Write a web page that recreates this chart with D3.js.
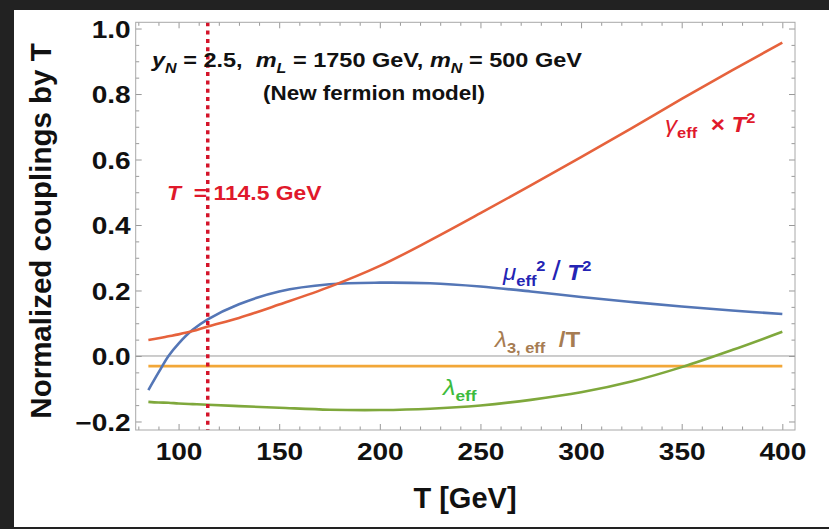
<!DOCTYPE html>
<html>
<head>
<meta charset="utf-8">
<script src="https://cdn.jsdelivr.net/npm/d3@7"></script>
<style>
  html, body { margin:0; padding:0; background:#222; }
  svg { display:block; }
  text { font-family: "Liberation Sans", Arial, sans-serif; }
</style>
</head>
<body>
<div class="chart"></div>
<script>
// temperatures (GeV) shared by all curves
var temps = [85, 90, 95, 100, 107, 114.5, 130, 150, 175, 200, 225, 250, 275, 300, 325, 350, 375, 400];
// gamma_eff x T^2
var gammaVals = [0.049, 0.054, 0.060, 0.066, 0.076, 0.090, 0.116, 0.157, 0.211, 0.275, 0.353, 0.436, 0.521, 0.607, 0.695, 0.785, 0.872, 0.957];
// mu_eff^2 / T^2
var muVals = [-0.104, -0.051, 0.000, 0.038, 0.080, 0.112, 0.158, 0.197, 0.219, 0.224, 0.222, 0.212, 0.197, 0.180, 0.165, 0.151, 0.139, 0.128];
// lambda_3,eff / T
var lam3Vals = [-0.031, -0.031, -0.031, -0.031, -0.031, -0.031, -0.031, -0.031, -0.031, -0.031, -0.031, -0.031, -0.031, -0.031, -0.031, -0.031, -0.031, -0.031];
// lambda_eff
var lamVals = [-0.140, -0.142, -0.143, -0.145, -0.147, -0.149, -0.153, -0.158, -0.164, -0.165, -0.161, -0.151, -0.134, -0.111, -0.078, -0.034, 0.018, 0.074];

var tCrit = 114.5;
var xMajor = [100, 150, 200, 250, 300, 350, 400];
var yMajor = [-0.2, 0, 0.2, 0.4, 0.6, 0.8, 1.0];

var W = 829, H = 529;
var svg = d3.select(".chart").append("svg")
  .attr("width", W)
  .attr("height", H);

// white picture area
svg.append("rect")
  .attr("x", 14).attr("y", 10)
  .attr("width", W-14).attr("height", 517)
  .attr("fill", "#fff");

var pLeft = 135.7, pRight = 795, pTop = 22.3, pBottom = 430;

var x = d3.scaleLinear().domain([78.7, 406.3]).range([pLeft, pRight]);
var y = d3.scaleLinear().domain([-0.226, 1.019]).range([pBottom, pTop]);

var xMinor = d3.range(80, 401, 10).filter(function(v){ return v % 50 != 0; });
var yMinor = d3.range(-0.2, 1.001, 0.05).filter(function(v){ return Math.abs(Math.round(v*5) - v*5) > 0.01; });

// zero line
svg.append("line")
  .attr("x1", pLeft).attr("x2", pRight)
  .attr("y1", y(0)).attr("y2", y(0))
  .attr("stroke", "#9a9a9a").attr("stroke-width", 1);

// curves
var line = d3.line()
  .x(function(d){ return x(d[0]); })
  .y(function(d){ return y(d[1]); })
  .curve(d3.curveCatmullRom.alpha(0.5));

var series = [
  {vals: lam3Vals, color: "#f2a738"},
  {vals: lamVals, color: "#7fa83c"},
  {vals: muVals, color: "#5476b6"},
  {vals: gammaVals, color: "#e6623c"}
];

series.forEach(function(s){
  svg.append("path")
    .attr("d", line(d3.zip(temps, s.vals)))
    .attr("fill", "none")
    .attr("stroke", s.color)
    .attr("stroke-width", 2.6);
});

// critical temperature marker
svg.append("line")
  .attr("x1", x(tCrit)).attr("x2", x(tCrit))
  .attr("y1", pTop).attr("y2", pBottom)
  .attr("stroke", "#d4142a")
  .attr("stroke-width", 3.5)
  .attr("stroke-dasharray", "4,4.3");

// frame + ticks
function styleAxis(g){
  g.select(".domain").remove();
  g.selectAll("line").attr("stroke", "#999");
}

svg.append("g").attr("transform", "translate(0," + pBottom + ")")
  .call(d3.axisBottom(x).tickValues(xMajor).tickSize(-6).tickPadding(8))
  .call(styleAxis)
  .call(function(g){
    g.selectAll("text")
      .attr("font-size", "24px").attr("font-weight", "bold").attr("fill", "#111")
      .attr("font-family", "Liberation Sans, Arial, sans-serif")
      .attr("transform", "scale(1.17,1)")
      .attr("x", 0).attr("y", 13).attr("dy", "0.71em");
  });
svg.append("g").attr("transform", "translate(0," + pBottom + ")")
  .call(d3.axisBottom(x).tickValues(xMinor).tickSize(-3.5).tickFormat(""))
  .call(styleAxis);
svg.append("g").attr("transform", "translate(0," + pTop + ")")
  .call(d3.axisTop(x).tickValues(xMajor).tickSize(-6).tickFormat(""))
  .call(styleAxis);
svg.append("g").attr("transform", "translate(0," + pTop + ")")
  .call(d3.axisTop(x).tickValues(xMinor).tickSize(-3.5).tickFormat(""))
  .call(styleAxis);

svg.append("g").attr("transform", "translate(" + pLeft + ",0)")
  .call(d3.axisLeft(y).tickValues(yMajor).tickSize(-6).tickFormat(d3.format(".1f")))
  .call(styleAxis)
  .call(function(g){
    g.selectAll("text")
      .attr("font-size", "24px").attr("font-weight", "bold").attr("fill", "#111")
      .attr("font-family", "Liberation Sans, Arial, sans-serif")
      .attr("transform", "scale(1.17,1)")
      .attr("x", -4.3).attr("dy", "0.36em");
  });
svg.append("g").attr("transform", "translate(" + pLeft + ",0)")
  .call(d3.axisLeft(y).tickValues(yMinor).tickSize(-3.5).tickFormat(""))
  .call(styleAxis);
svg.append("g").attr("transform", "translate(" + pRight + ",0)")
  .call(d3.axisRight(y).tickValues(yMajor).tickSize(-6).tickFormat(""))
  .call(styleAxis);
svg.append("g").attr("transform", "translate(" + pRight + ",0)")
  .call(d3.axisRight(y).tickValues(yMinor).tickSize(-3.5).tickFormat(""))
  .call(styleAxis);

svg.append("rect")
  .attr("x", pLeft).attr("y", pTop)
  .attr("width", pRight-pLeft).attr("height", pBottom-pTop)
  .attr("fill", "none").attr("stroke", "#a8a8a8").attr("stroke-width", 1);

// axis titles
svg.append("text")
  .attr("transform", "translate(51,231) rotate(-90)")
  .attr("text-anchor", "middle")
  .attr("font-size", "29.5px").attr("font-weight", "bold").attr("fill", "#111")
  .text("Normalized couplings by T");

svg.append("text")
  .attr("x", 465).attr("y", 508)
  .attr("text-anchor", "middle")
  .attr("font-size", "29px").attr("font-weight", "bold").attr("fill", "#111")
  .text("T [GeV]");

// rich text helper: parts = [text, options]
function rich(px, py, size, sx, color, parts, anchor){
  var t = svg.append("text")
    .attr("transform", "translate(" + px + "," + py + ") scale(" + sx + ",1)")
    .attr("font-size", size + "px")
    .attr("font-weight", "bold")
    .attr("fill", color)
    .attr("text-anchor", anchor || "start")
    .style("white-space", "pre");
  var shift = 0;
  parts.forEach(function(p){
    var o = p[1] || {};
    var want = o.sub ? 0.28*size : (o.sup ? -0.42*size : 0);
    var ts = t.append("tspan").text(p[0])
      .attr("dy", want - shift);
    shift = want;
    if(o.sub || o.sup) ts.attr("font-size", (size*0.68) + "px");
    if(o.big) ts.attr("font-size", (size*1.25) + "px");
    if(o.it) ts.attr("font-style", "italic");
    if(o.normal) ts.attr("font-weight", "normal");
  });
  return t;
}

rich(152, 67, 21, 1.12, "#111", [
  ["y", {it:1}], ["N", {it:1, sub:1}], [" = 2.5,  "], ["m", {it:1}], ["L", {it:1, sub:1}],
  [" = 1750 GeV, "], ["m", {it:1}], ["N", {it:1, sub:1}], [" = 500 GeV"]
]);

rich(374, 100, 21, 1.07, "#111", [["(New fermion model)"]], "middle");

rich(167, 200, 21, 1.09, "#e0192b", [["T", {it:1}], ["  = 114.5 GeV"]]);

rich(665, 132, 22, 1.1, "#e0192b", [["γ", {it:1, normal:1}], ["eff", {sub:1}], ["  × "], ["T", {it:1}], ["2", {sup:1}]]);

rich(503, 280, 22, 1.1, "#2424b4", [["μ", {it:1, normal:1}], ["eff", {sub:1}], ["2", {sup:1}], [" "], ["/", {big:1, normal:1}], [" "], ["T", {it:1}], ["2", {sup:1}]]);

rich(495, 347, 22, 1.1, "#a67c52", [["λ", {it:1, normal:1}], ["3, eff", {sub:1}], ["  /T"]]);

rich(443, 395, 22, 1.15, "#3dbb3d", [["λ", {it:1, normal:1}], ["eff", {sub:1}]]);
</script>
</body>
</html>
